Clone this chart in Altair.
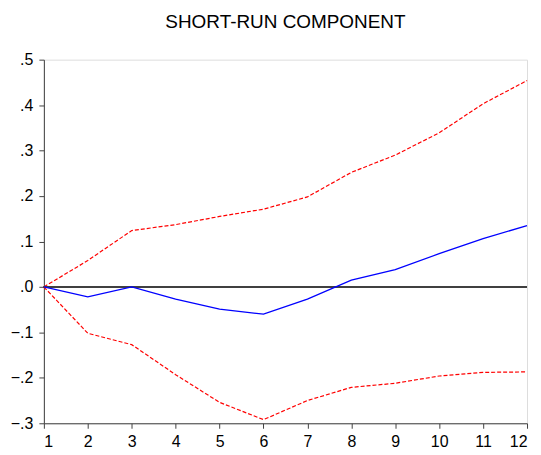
import altair as alt
import pandas as pd

periods = [1, 2, 3, 4, 5, 6, 7, 8, 9, 10, 11, 12]
response = [0.0, -0.022, 0.0, -0.027, -0.049, -0.060, -0.027, 0.015, 0.038, 0.073, 0.106, 0.135]
upper = [0.0, 0.058, 0.124, 0.137, 0.155, 0.171, 0.198, 0.252, 0.290, 0.339, 0.403, 0.454]
lower = [0.0, -0.102, -0.127, -0.193, -0.254, -0.292, -0.250, -0.221, -0.212, -0.196, -0.188, -0.187]
y_ticks = [-0.3, -0.2, -0.1, 0.0, 0.1, 0.2, 0.3, 0.4, 0.5]
title_text = "SHORT-RUN COMPONENT"

df = pd.DataFrame({"period": periods, "response": response, "upper": upper, "lower": lower})

AX = "#404040"
FONT = "Liberation Sans"

xscale = alt.Scale(domain=[1, 12], nice=False, zero=False)
yscale = alt.Scale(domain=[-0.3, 0.5], nice=False, zero=False)

xenc = alt.X("period:Q", scale=xscale,
             axis=alt.Axis(values=periods, format="d", title=None, grid=False,
                           tickSize=5, tickColor=AX, domainColor=AX, labelPadding=5,
                           labelFontSize=16, labelFont=FONT, labelColor="black"))

yaxis = alt.Axis(values=y_ticks, title=None, grid=False, tickSize=5, tickColor=AX,
                 labelPadding=6, domainColor=AX,
                 labelExpr="replace(format(datum.value, '.1f'), '0.', '.')",
                 labelFontSize=16, labelFont=FONT, labelColor="black")

base = alt.Chart(df)

up_line = base.mark_line(color="#FF0000", strokeWidth=1.2, strokeDash=[4, 2]).encode(
    x=xenc, y=alt.Y("upper:Q", scale=yscale, axis=yaxis))

zero = base.mark_rule(color=AX, strokeWidth=1.5).encode(
    y=alt.Y(datum=0, scale=yscale))

lo_line = base.mark_line(color="#FF0000", strokeWidth=1.2, strokeDash=[4, 2]).encode(
    x=xenc, y=alt.Y("lower:Q", scale=yscale))

resp_line = base.mark_line(color="#0000FF", strokeWidth=1.3).encode(
    x=xenc, y=alt.Y("response:Q", scale=yscale))

chart = alt.layer(up_line, zero, lo_line, resp_line).properties(
    width=485, height=365,
    title=alt.TitleParams(title_text, fontSize=19, font=FONT, fontWeight="normal",
                          color="black", anchor="middle", offset=20),
    autosize="none",
    padding={"left": 36, "top": 51, "right": 6, "bottom": 30},
).configure_view(stroke=AX, strokeWidth=1.2).configure(background="white")

chart.save("out.html", embed_options={"renderer": "svg", "actions": False})
